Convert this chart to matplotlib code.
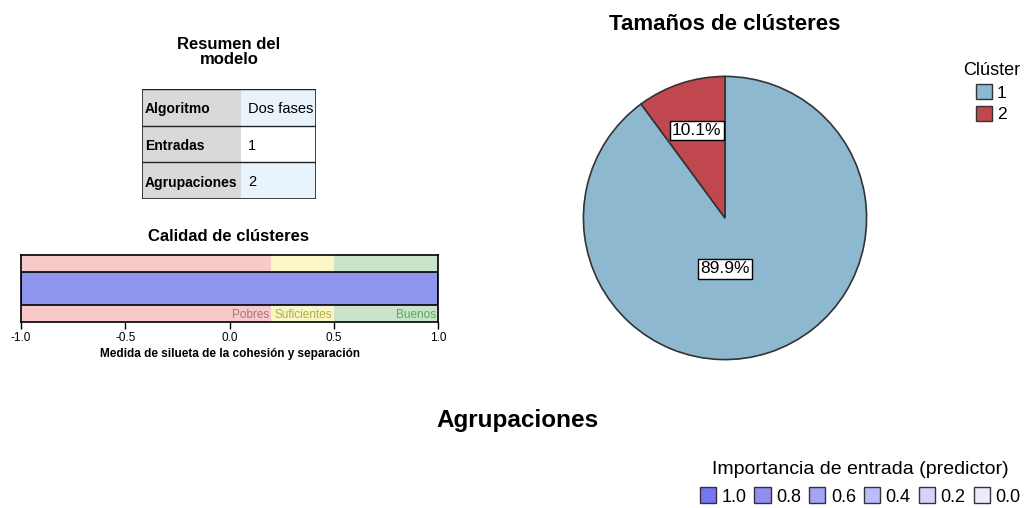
import matplotlib
matplotlib.use("Agg")
import matplotlib.pyplot as plt
import matplotlib.patches as mpatches

plt.rcParams['font.family'] = ['Liberation Sans', 'DejaVu Sans']

# data
table_labels = ["Algoritmo", "Entradas", "Agrupaciones"]
table_values = ["Dos fases", "1", "2"]

band_names = ["Pobres", "Suficientes", "Buenos"]
band_edges = [-1.0, 0.2, 0.5, 1.0]
silhouette = 1.0

cluster_names = ["1", "2"]
cluster_pct = [89.9, 10.1]

importance_levels = [1.0, 0.8, 0.6, 0.4, 0.2, 0.0]

W, H = 1026, 508
fig = plt.figure(figsize=(W / 100, H / 100), dpi=100)


def box(x0, y0, x1, y1):
    # pixel box (top-left origin) -> figure axes rect
    return [x0 / W, 1 - y1 / H, (x1 - x0) / W, (y1 - y0) / H]


# ---- model summary table
fig.text(229 / W, 1 - 52 / H, "Resumen del\nmodelo", ha='center', va='center',
         fontsize=12, fontweight='bold', linespacing=1.0)
axt = fig.add_axes(box(142, 89, 316, 199))
axt.set_xlim(0, 174)
axt.set_ylim(3, 0)
axt.axis('off')
val_bg = ['#e8f3fc', 'white', '#e8f3fc']
for i, (lab, val) in enumerate(zip(table_labels, table_values)):
    axt.add_patch(mpatches.Rectangle((0, i), 99, 1, facecolor='#d9d9d9', edgecolor='none'))
    axt.add_patch(mpatches.Rectangle((99, i), 75, 1, facecolor=val_bg[i], edgecolor='none'))
    axt.plot([0, 174], [i, i], color='#222222', lw=1)
    axt.text(3, i + 0.55, lab, va='center', ha='left', fontsize=10, fontweight='bold')
    axt.text(106, i + 0.55, val, va='center', ha='left', fontsize=10.5)
axt.add_patch(mpatches.Rectangle((0, 0), 174, 3, fill=False, edgecolor='#222222', lw=1.2))

# ---- cluster quality
fig.text(229 / W, 1 - 236 / H, "Calidad de clústeres", ha='center', va='center',
         fontsize=12, fontweight='bold')
axq = fig.add_axes(box(21, 255, 438, 322))
band_colors = ['#f7c9c9', '#fbf6c8', '#cae3cb']
text_colors = ['#b07080', '#b0b040', '#50b050']
for k in range(3):
    axq.axvspan(band_edges[k], band_edges[k + 1], color=band_colors[k], lw=0)
    axq.text(band_edges[k + 1] - 0.01, 0.11, band_names[k], ha='right', va='center',
             fontsize=8.5, color=text_colors[k])
axq.barh(0.5, silhouette - (-1.0), left=-1.0, height=0.5, color='#8f96ee',
         edgecolor='black', lw=1.2)
axq.set_xlim(-1.0, 1.0)
axq.set_ylim(0, 1)
axq.set_yticks([])
axq.set_xticks([-1.0, -0.5, 0.0, 0.5, 1.0])
axq.set_xticklabels(['-1.0', '-0.5', '0.0', '0.5', '1.0'], fontsize=8.5)
axq.tick_params(axis='x', length=5, width=1, pad=2)
for s in axq.spines.values():
    s.set_linewidth(1.2)
axq.set_xlabel("Medida de silueta de la cohesión y separación", fontsize=8.5,
               fontweight='bold', labelpad=3)

# ---- cluster sizes pie
fig.text(725 / W, 1 - 24 / H, "Tamaños de clústeres", ha='center', va='center',
         fontsize=16, fontweight='bold')
axp = fig.add_axes(box(582, 75, 868, 361))
pie_colors = ['#8db8d0', '#c0474f']
wedges, _ = axp.pie(cluster_pct, colors=pie_colors, startangle=90, counterclock=False,
                    wedgeprops=dict(edgecolor='#333333', linewidth=1.2))
label_pos = [(0.0, -0.36), (-0.2, 0.62)]
for (x, y), p in zip(label_pos, cluster_pct):
    axp.text(x, y, f"{p:.1f}%", ha='center', va='center', fontsize=12.5,
             bbox=dict(facecolor='white', edgecolor='black', boxstyle='square,pad=0.12', lw=1))
axp.set_aspect('equal')
axp.set_xlim(-1.01, 1.01)
axp.set_ylim(-1.01, 1.01)

leg_handles = [mpatches.Patch(facecolor=c, edgecolor='#333333', lw=1) for c in pie_colors]
fig.legend(leg_handles, cluster_names, title="Clúster", loc='upper left',
           bbox_to_anchor=(947 / W, 1 - 46 / H), frameon=False, fontsize=12.5,
           title_fontsize=13, handlelength=0.9, handleheight=1.0, handletextpad=0.3,
           labelspacing=0.3)

# ---- Agrupaciones
fig.text(517 / W, 1 - 420 / H, "Agrupaciones", ha='center', va='center',
         fontsize=17.5, fontweight='bold')

imp_colors = ['#7676f0', '#8e8ef2', '#a4a4f5', '#bcbcf8', '#d4d4fa', '#ebebfd']
imp_handles = [mpatches.Patch(facecolor=c, edgecolor='#333333', lw=1) for c in imp_colors]
fig.legend(imp_handles, [f"{v:.1f}" for v in importance_levels],
           title="Importancia de entrada (predictor)", loc='upper center',
           bbox_to_anchor=(860 / W, 1 - 445 / H), ncol=6, frameon=False, fontsize=13,
           title_fontsize=14, handlelength=0.9, handleheight=1.0, handletextpad=0.3,
           columnspacing=0.45)

fig.savefig("out.png", dpi=100)
